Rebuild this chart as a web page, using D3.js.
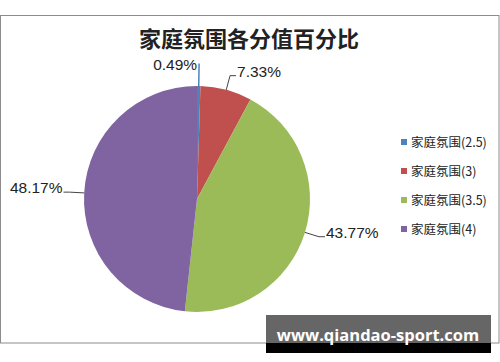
<!DOCTYPE html>
<html>
<head>
<meta charset="utf-8">
<script src="https://cdn.jsdelivr.net/npm/d3@7"></script>
<style>
  body { margin: 0; background: #fff; }
  svg { display: block; }
</style>
</head>
<body>
<svg id="chart"></svg>
<script>
// Chart data
const title = "家庭氛围各分值百分比";
const categories = ["家庭氛围(2.5)", "家庭氛围(3)", "家庭氛围(3.5)", "家庭氛围(4)"];
const percents = [0.49, 7.33, 43.77, 48.17];
const colors = ["#4F81BD", "#C0504D", "#9BBB59", "#8064A2"];

const width = 500;
const height = 362;
const cx = 197, cy = 199, radius = 113;

const svg = d3.select("#chart")
  .attr("width", width)
  .attr("height", height);

// Frame
svg.append("rect")
  .attr("x", 0.5)
  .attr("y", 15.5)
  .attr("width", 498.5)
  .attr("height", 327.5)
  .attr("fill", "#fff")
  .attr("stroke", "#8c8c8c");

// Title
svg.append("text")
  .attr("x", 249)
  .attr("y", 47)
  .attr("text-anchor", "middle")
  .style("font-family", "'Noto Sans CJK SC'")
  .style("font-size", "22px")
  .style("font-weight", "bold")
  .style("fill", "#222")
  .text(title);

const data = categories.map((c, i) => ({ name: c, value: percents[i], color: colors[i] }));

const pie = d3.pie().sort(null).value((d) => d.value);
const arc = d3.arc().innerRadius(0).outerRadius(radius);
const edgeArc = d3.arc().innerRadius(radius).outerRadius(radius);
const outerArc = d3.arc().innerRadius(radius * 1.13).outerRadius(radius * 1.13);
const topArc = d3.arc().innerRadius(radius * 1.2).outerRadius(radius * 1.2);

const g = svg.append("g").attr("transform", `translate(${cx},${cy})`);
const arcs = pie(data);

g.selectAll("path.slice")
  .data(arcs)
  .enter()
  .append("path")
  .attr("class", "slice")
  .attr("d", arc)
  .attr("fill", (d) => d.data.color);

// Leader lines and labels
arcs.forEach((d) => {
  const p0 = edgeArc.centroid(d);
  const mid = (d.startAngle + d.endAngle) / 2;
  const nearTop = Math.abs(Math.sin(mid)) < 0.1;
  const p1 = nearTop ? topArc.centroid(d) : outerArc.centroid(d);
  const right = p1[0] >= 0;
  let pts, tx, ty, anchor;
  if (nearTop) {
    pts = [p0, p1];
    tx = p1[0] - 2;
    ty = p1[1] + 7;
    anchor = "end";
  } else {
    const p2 = [p1[0] + (right ? 6 : -6), p1[1]];
    pts = [p0, p1, p2];
    tx = p2[0] + (right ? 1 : -1);
    ty = p1[1] + 1;
    anchor = right ? "start" : "end";
  }
  g.append("path")
    .attr("d", d3.line()(pts))
    .attr("fill", "none")
    .attr("stroke", nearTop ? d.data.color : "#444")
    .attr("stroke-width", nearTop ? 1.5 : 1);
  g.append("text")
    .attr("x", tx)
    .attr("y", ty)
    .attr("text-anchor", anchor)
    .style("font-family", "'Liberation Sans', sans-serif")
    .style("font-size", "15.5px")
    .style("fill", "#222")
    .text(d.data.value.toFixed(2) + "%");
});

// Legend
const legend = svg.append("g").attr("transform", "translate(401,142)");
const rowStep = 29;
const item = legend.selectAll("g")
  .data(data)
  .enter()
  .append("g")
  .attr("transform", (d, i) => `translate(0,${i * rowStep})`);

item.append("rect")
  .attr("x", 0)
  .attr("y", -3)
  .attr("width", 6)
  .attr("height", 6)
  .attr("fill", (d) => d.color);

item.append("text")
  .attr("x", 10)
  .attr("y", 4.5)
  .style("font-family", "'Noto Sans CJK SC'")
  .style("font-size", "12.5px")
  .style("fill", "#222")
  .text((d) => d.name);

// Watermark banner
svg.append("rect")
  .attr("x", 266).attr("y", 315)
  .attr("width", 225).attr("height", 28)
  .attr("fill", "#666");
svg.append("rect")
  .attr("x", 266).attr("y", 343)
  .attr("width", 225).attr("height", 10)
  .attr("fill", "#000");
svg.append("text")
  .attr("x", 378)
  .attr("y", 341)
  .attr("text-anchor", "middle")
  .style("font-family", "'Open Sans', sans-serif")
  .style("font-size", "16.5px")
  .style("font-weight", "bold")
  .style("fill", "#fff")
  .text("www.qiandao-sport.com");
</script>
</body>
</html>
